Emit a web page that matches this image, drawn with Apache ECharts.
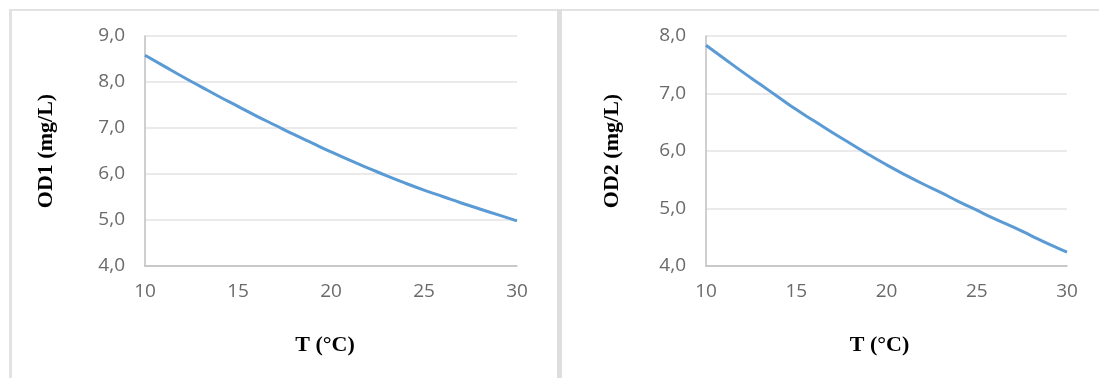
<!DOCTYPE html>
<html>
<head>
<meta charset="utf-8">
<title>OD vs T</title>
<script src="https://cdn.jsdelivr.net/npm/echarts@6/dist/echarts.min.js"></script>
<style>
  html, body { margin: 0; padding: 0; background: #ffffff; }
  #chart { width: 1099px; height: 378px; }
</style>
</head>
<body>
<div id="chart"></div>
<script>
// Temperature in °C
const temperature = [10, 11, 12, 13, 14, 15, 16, 17, 18, 19, 20, 21, 22, 23, 24, 25, 26, 27, 28, 29, 30];
// Dissolved oxygen, first case (mg/L)
const od1 = [8.58, 8.35, 8.12, 7.90, 7.68, 7.47, 7.26, 7.06, 6.86, 6.67, 6.48, 6.30, 6.13, 5.96, 5.80, 5.65, 5.51, 5.37, 5.24, 5.11, 4.98];
// Dissolved oxygen, second case (mg/L)
const od2 = [7.84, 7.61, 7.38, 7.16, 6.94, 6.72, 6.52, 6.32, 6.13, 5.94, 5.76, 5.59, 5.43, 5.28, 5.12, 4.97, 4.82, 4.68, 4.53, 4.38, 4.24];
// Axis ranges
const xTicks = { min: 10, max: 30, step: 5 };
const y1Ticks = { min: 4, max: 9, step: 1 };
const y2Ticks = { min: 4, max: 8, step: 1 };

const pairs = (xs, ys) => xs.map((x, i) => [x, ys[i]]);
const comma = v => v.toFixed(1).replace('.', ',');

const tickFont = { color: '#6a6a6a', fontSize: 19, fontFamily: 'Open Sans' };
const titleFont = { color: '#000000', fontSize: 22, fontWeight: 'bold', fontFamily: 'Liberation Serif' };

function xAxis(gridIndex, pad) {
  return {
    gridIndex, type: 'value', min: xTicks.min, max: xTicks.max, interval: xTicks.step,
    name: 'T (°C)', nameLocation: 'middle', nameGap: 68,
    nameTextStyle: Object.assign({}, titleFont, { padding: pad }),
    axisLine: { show: true, lineStyle: { color: '#bfbfbf', width: 1.5 } },
    axisTick: { show: false },
    axisLabel: Object.assign({ margin: 16 }, tickFont),
    splitLine: { show: false }
  };
}

function yAxis(gridIndex, name, range, gap) {
  return {
    gridIndex, type: 'value', min: range.min, max: range.max, interval: range.step,
    name, nameLocation: 'middle', nameGap: gap, nameRotate: 90,
    nameTextStyle: titleFont,
    axisLine: { show: true, lineStyle: { color: '#bfbfbf', width: 1.5 } },
    axisTick: { show: false },
    axisLabel: Object.assign({ margin: 20, formatter: comma }, tickFont),
    splitLine: { show: true, lineStyle: { color: '#e3e3e3', width: 1.5 } }
  };
}

const lineStyle = { color: '#5b9bd5', width: 3 };

const chart = echarts.init(document.getElementById('chart'), null, { renderer: 'canvas' });
chart.setOption({
  animation: false,
  backgroundColor: '#ffffff',
  grid: [
    { left: 145, right: 582, top: 36, bottom: 112 },
    { left: 706, right: 32, top: 36, bottom: 112 }
  ],
  xAxis: [xAxis(0, [0, 12, 0, 0]), xAxis(1, [0, 14, 0, 0])],
  yAxis: [yAxis(0, 'OD1 (mg/L)', y1Ticks, 88), yAxis(1, 'OD2 (mg/L)', y2Ticks, 83)],
  series: [
    { type: 'line', xAxisIndex: 0, yAxisIndex: 0, data: pairs(temperature, od1),
      smooth: 0.5, showSymbol: false, lineStyle, itemStyle: { color: '#5b9bd5' } },
    { type: 'line', xAxisIndex: 1, yAxisIndex: 1, data: pairs(temperature, od2),
      smooth: 0.5, showSymbol: false, lineStyle, itemStyle: { color: '#5b9bd5' } }
  ],
  graphic: [
    // panel frame: top rule, left rule and the divider between the two panels
    { type: 'rect', shape: { x: 10, y: 9, width: 1089, height: 2 }, style: { fill: '#e2e2e2' }, silent: true },
    { type: 'rect', shape: { x: 9, y: 9, width: 3, height: 369 }, style: { fill: '#e2e2e2' }, silent: true },
    { type: 'rect', shape: { x: 557, y: 9, width: 5, height: 369 }, style: { fill: '#dedede' }, silent: true }
  ]
});
</script>
</body>
</html>
